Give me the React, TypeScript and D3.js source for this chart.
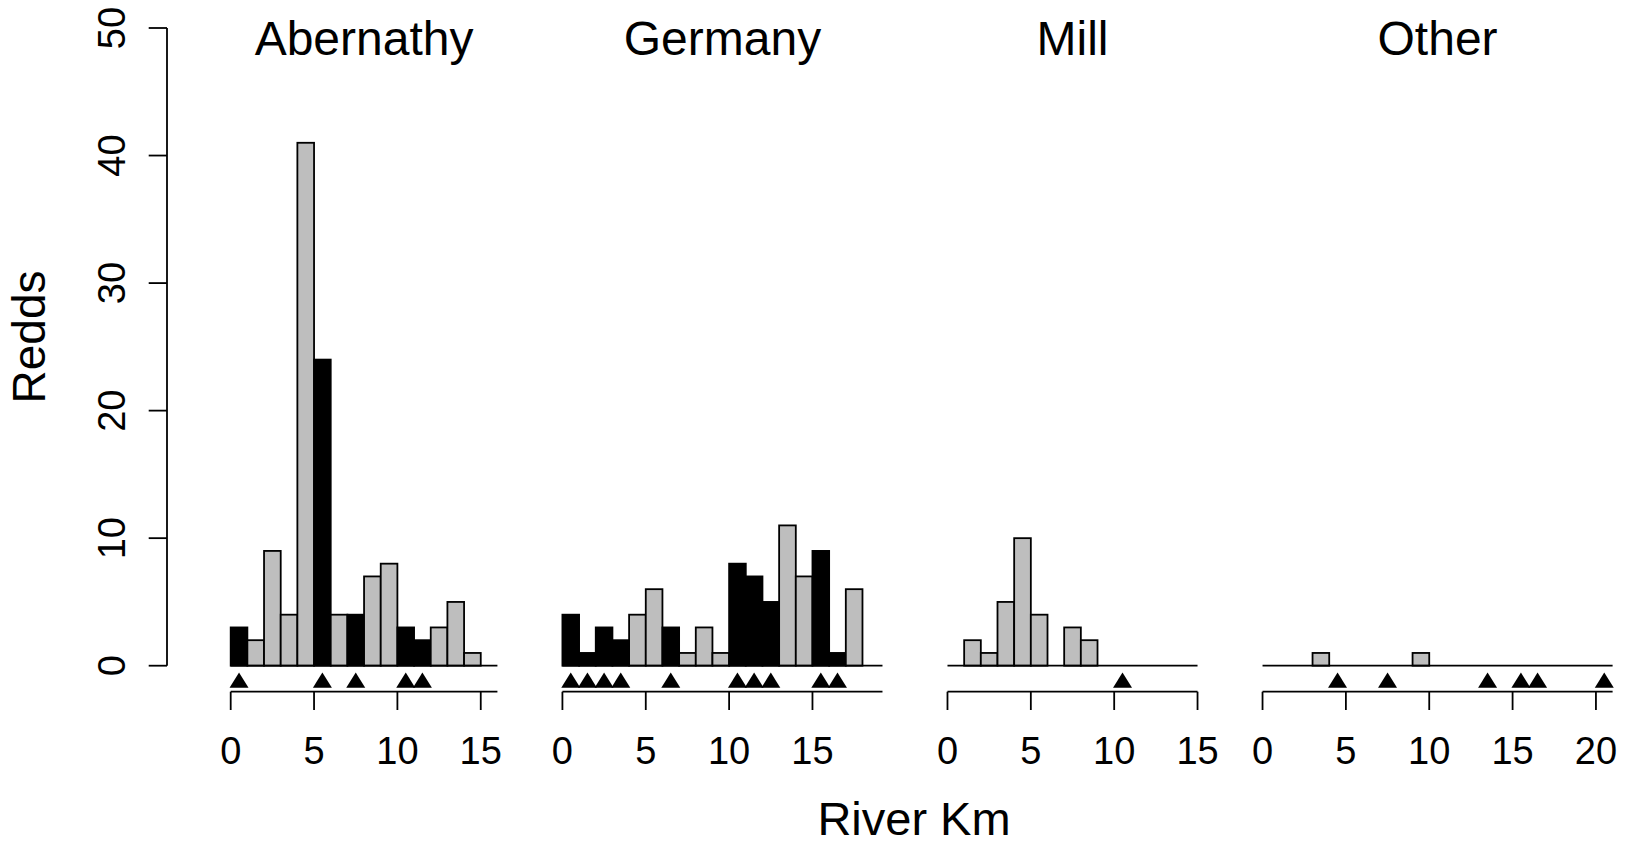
import React from "react";
import * as d3 from "d3";

const rivers = ["Abernathy", "Germany", "Mill", "Other"];
// redd counts per 1-km bin, starting at km 0
const abernathyCounts = [3, 2, 9, 4, 41, 24, 4, 4, 7, 8, 3, 2, 3, 5, 1];
const germanyCounts = [4, 1, 3, 2, 4, 6, 3, 1, 3, 1, 8, 7, 5, 11, 7, 9, 1, 6];
const millCounts = [0, 2, 1, 5, 10, 4, 0, 3, 2];
const otherCounts = [0, 0, 0, 1, 0, 0, 0, 0, 0, 1];
// triangle marker positions (river km)
const abernathyTri = [0.5, 5.5, 7.5, 10.5, 11.5];
const germanyTri = [0.5, 1.5, 2.5, 3.5, 6.5, 10.5, 11.5, 12.5, 15.5, 16.5];
const millTri = [10.5];
const otherTri = [4.5, 7.5, 13.5, 15.5, 16.5, 20.5];
// river lengths (axis extents, km)
const riverExtents = [16, 19.2, 15, 21];
const xTicks = [
  [0, 5, 10, 15],
  [0, 5, 10, 15],
  [0, 5, 10, 15],
  [0, 5, 10, 15, 20],
];
const yTicks = [0, 10, 20, 30, 40, 50];

const countsList = [abernathyCounts, germanyCounts, millCounts, otherCounts];
const triList = [abernathyTri, germanyTri, millTri, otherTri];

const W = 1628;
const H = 849;
const PX_PER_KM = 16.67;
const GAP = 65;
const X_START = 230.7;
const FONT = "'Liberation Sans', Arial, Helvetica, sans-serif";

export default function App() {
  const y = d3.scaleLinear().domain([0, 50]).range([665.7, 28]);
  const axisY = 691.7;
  const tickLen = 18.3;
  const sw = 1.8;

  let cursor = X_START;
  const scales = riverExtents.map((ext) => {
    const s = d3.scaleLinear().domain([0, ext]).range([cursor, cursor + ext * PX_PER_KM]);
    cursor += ext * PX_PER_KM + GAP;
    return s;
  });

  const triPath = (cx: number) => {
    const half = 9.5;
    const top = 672.5;
    const bot = 687.8;
    return `M${cx - half},${bot}L${cx + half},${bot}L${cx},${top}Z`;
  };

  return (
    <svg
      width={W}
      height={H}
      style={{ position: "absolute", left: 0, top: 0, background: "#fff" }}
      fontFamily={FONT}
    >
      <rect x={0} y={0} width={W} height={H} fill="#fff" />
      {/* Y axis */}
      <line x1={167} x2={167} y1={y(0)} y2={y(50)} stroke="#000" strokeWidth={sw} />
      {yTicks.map((t) => (
        <g key={t}>
          <line x1={167 - tickLen} x2={167} y1={y(t)} y2={y(t)} stroke="#000" strokeWidth={sw} />
          <text
            transform={`translate(125,${y(t)}) rotate(-90)`}
            textAnchor="middle"
            fontSize={38}
            fill="#000"
          >
            {t}
          </text>
        </g>
      ))}
      <text transform={`translate(45,337) rotate(-90)`} textAnchor="middle" fontSize={46} fill="#000">
        Redds
      </text>
      <text x={914} y={835} textAnchor="middle" fontSize={47} fill="#000">
        River Km
      </text>

      {rivers.map((name, i) => {
        const x = scales[i];
        const counts = countsList[i];
        const tris = triList[i];
        const ext = riverExtents[i];
        const center = (x(0) + x(ext)) / 2;
        return (
          <g key={name}>
            <text x={center} y={55} textAnchor="middle" fontSize={48} fill="#000">
              {name}
            </text>
            {counts.map((c, b) => {
              if (c <= 0) return null;
              const black = tris.includes(b + 0.5);
              return (
                <rect
                  key={b}
                  x={x(b)}
                  y={y(c)}
                  width={x(b + 1) - x(b)}
                  height={y(0) - y(c)}
                  fill={black ? "#000" : "#BEBEBE"}
                  stroke="#000"
                  strokeWidth={sw}
                />
              );
            })}
            {/* baseline */}
            <line x1={x(0)} x2={x(ext)} y1={y(0)} y2={y(0)} stroke="#000" strokeWidth={sw} />
            {/* triangles */}
            {tris.map((t, k) => (
              <path key={k} d={triPath(x(t))} fill="#000" />
            ))}
            {/* x axis */}
            <line x1={x(0)} x2={x(ext)} y1={axisY} y2={axisY} stroke="#000" strokeWidth={sw} />
            {xTicks[i].map((t) => (
              <g key={t}>
                <line x1={x(t)} x2={x(t)} y1={axisY} y2={axisY + tickLen} stroke="#000" strokeWidth={sw} />
                <text x={x(t)} y={764} textAnchor="middle" fontSize={38} fill="#000">
                  {t}
                </text>
              </g>
            ))}
          </g>
        );
      })}
    </svg>
  );
}
